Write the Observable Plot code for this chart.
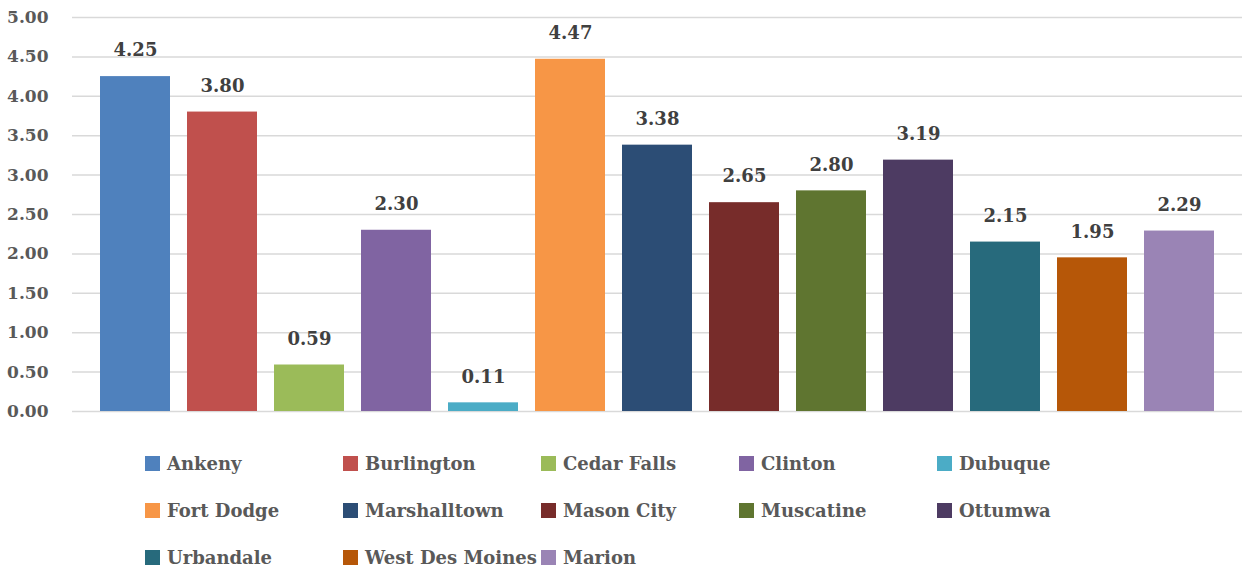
<!DOCTYPE html>
<html>
<head>
<meta charset="utf-8">
<script src="https://cdn.jsdelivr.net/npm/d3@7"></script>
<script src="https://cdn.jsdelivr.net/npm/@observablehq/plot@0.6"></script>
<style>
  html, body { margin: 0; padding: 0; background: #fff; }
  #chart { width: 1242px; }
  #chart svg, #chart svg text { font-family: "DejaVu Serif", serif !important; }
  .legend { display: grid; grid-template-columns: repeat(5, 198px); grid-auto-rows: 47px; margin-left: 145px; margin-top: 10px; font-family: "DejaVu Serif", serif; font-weight: bold; font-size: 18px; color: #595959; }
  .legend div { display: flex; align-items: center; white-space: nowrap; }
  .legend span.sw { display: inline-block; width: 15px; height: 15px; margin-right: 7px; }
</style>
</head>
<body>
<div id="chart"></div>
<script>
const cities = ["Ankeny", "Burlington", "Cedar Falls", "Clinton", "Dubuque", "Fort Dodge", "Marshalltown", "Mason City", "Muscatine", "Ottumwa", "Urbandale", "West Des Moines", "Marion"];
const values = [4.25, 3.80, 0.59, 2.30, 0.11, 4.47, 3.38, 2.65, 2.80, 3.19, 2.15, 1.95, 2.29];
const colors = ["#4F81BD", "#C0504D", "#9BBB59", "#8064A2", "#4BACC6", "#F79646", "#2C4D75", "#772C2A", "#5F7530", "#4D3B62", "#276A7C", "#B65708", "#9A84B5"];
const yTicks = [0, 0.5, 1, 1.5, 2, 2.5, 3, 3.5, 4, 4.5, 5];

const data = cities.map((c, i) => ({city: c, value: values[i]}));

const chart = Plot.plot({
  width: 1242,
  height: 430,
  marginLeft: 72,
  marginRight: 0,
  marginTop: 17,
  marginBottom: 19,
  style: {fontWeight: "bold"},
  x: {domain: cities, paddingInner: 0.2, paddingOuter: 0.3, axis: null},
  y: {domain: [0, 5], ticks: yTicks},
  color: {domain: cities, range: colors},
  marks: [
    Plot.gridY(yTicks, {stroke: "#d9d9d9", strokeOpacity: 1, strokeWidth: 1.5}),
    Plot.axisY(yTicks, {tickSize: 0, tickPadding: 0, dx: -24, tickFormat: d => d.toFixed(2), fontSize: 17, fill: "#595959", label: null}),
    Plot.barY(data, {x: "city", y: "value", fill: "city"}),
    Plot.text(data, {x: "city", y: "value", text: d => d.value.toFixed(2), dy: -26, fontSize: 18, fill: "#404040", fontWeight: "bold"})
  ]
});
document.getElementById("chart").appendChild(chart);

const legend = document.createElement("div");
legend.className = "legend";
cities.forEach((c, i) => {
  const item = document.createElement("div");
  const sw = document.createElement("span");
  sw.className = "sw";
  sw.style.background = colors[i];
  item.appendChild(sw);
  item.appendChild(document.createTextNode(c));
  legend.appendChild(item);
});
document.getElementById("chart").appendChild(legend);
</script>
</body>
</html>
